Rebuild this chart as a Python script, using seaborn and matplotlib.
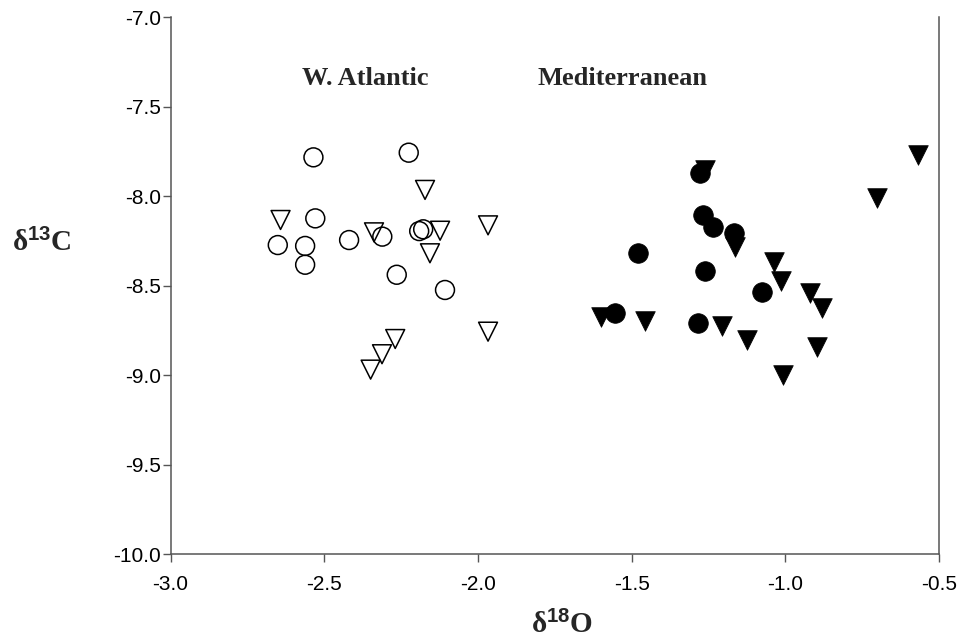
import matplotlib
matplotlib.use("Agg")
import matplotlib.pyplot as plt
import seaborn as sns
import pandas as pd

# --- data ---
atl_circ_x = [-2.535, -2.225, -2.529, -2.651, -2.562, -2.562, -2.419, -2.311, -2.178, -2.191, -2.264, -2.107]
atl_circ_y = [-7.784, -7.758, -8.125, -8.274, -8.279, -8.384, -8.246, -8.227, -8.186, -8.196, -8.440, -8.525]

atl_tri_x = [-2.642, -2.172, -2.338, -2.123, -1.967, -2.156, -1.967, -2.269, -2.312, -2.349]
atl_tri_y = [-8.134, -7.966, -8.203, -8.194, -8.164, -8.320, -8.758, -8.799, -8.884, -8.970]

med_circ_x = [-1.277, -1.269, -1.236, -1.167, -1.478, -1.261, -1.077, -1.554, -1.285]
med_circ_y = [-7.870, -8.106, -8.172, -8.208, -8.317, -8.417, -8.538, -8.655, -8.711]

med_tri_x = [-0.569, -0.701, -1.261, -1.164, -1.037, -1.015, -0.920, -0.882, -1.600, -1.455, -1.205, -1.124, -0.897, -1.008]
med_tri_y = [-7.771, -8.011, -7.855, -8.283, -8.370, -8.475, -8.540, -8.627, -8.674, -8.697, -8.726, -8.804, -8.842, -9.000]

x_ticks = [-3.0, -2.5, -2.0, -1.5, -1.0, -0.5]
y_ticks = [-10.0, -9.5, -9.0, -8.5, -8.0, -7.5, -7.0]
region_labels = ["W. Atlantic", "Mediterranean"]
region_label_x = [-2.367, -1.528]
region_label_y = [-7.346, -7.346]

sns.set_theme(style="white")
plt.rcParams["font.family"] = ["Liberation Sans", "DejaVu Sans"]
plt.rcParams["mathtext.fontset"] = "custom"
plt.rcParams["mathtext.rm"] = "Liberation Serif:bold"
plt.rcParams["mathtext.it"] = "Liberation Serif:bold"
plt.rcParams["mathtext.bf"] = "Liberation Serif:bold"
plt.rcParams["mathtext.sf"] = "Liberation Sans:bold"

fig = plt.figure(figsize=(9.68, 6.44), dpi=100)
ax = fig.add_axes([170.5 / 968, 90 / 644, (939 - 170.5) / 968, (554 - 17) / 644])

size = 185
sns.scatterplot(x=atl_circ_x, y=atl_circ_y, marker="o", s=size, facecolor="none",
                edgecolor="black", linewidth=1.1, ax=ax, zorder=3)
sns.scatterplot(x=atl_tri_x, y=atl_tri_y, marker="v", s=size, facecolor="none",
                edgecolor="black", linewidth=1.1, ax=ax, zorder=3)
sns.scatterplot(x=med_circ_x, y=med_circ_y, marker="o", s=size + 15, color="black",
                edgecolor="black", linewidth=0.5, ax=ax, zorder=3)
sns.scatterplot(x=med_tri_x, y=med_tri_y, marker="v", s=size + 15, color="black",
                edgecolor="black", linewidth=0.5, ax=ax, zorder=3)

ax.set_xlim(-3.0, -0.5)
ax.set_ylim(-10.0, -7.0)
ax.set_xticks(x_ticks)
ax.set_yticks(y_ticks)
ax.set_xticklabels([f"{v:.1f}" for v in x_ticks])
ax.set_yticklabels([f"{v:.1f}" for v in y_ticks])
ax.tick_params(axis="both", which="major", direction="out", length=6, width=1,
               color="#555555", labelsize=15, labelcolor="black",
               left=True, bottom=True)
ax.tick_params(axis="x", pad=9)
ax.tick_params(axis="y", pad=1)
ax.grid(False)

for side in ["left", "bottom", "right"]:
    ax.spines[side].set_visible(True)
    ax.spines[side].set_color("#555555")
    ax.spines[side].set_linewidth(1.1)
ax.spines["top"].set_visible(False)

ax.set_xlabel("")
ax.set_ylabel("")

for lab, lx, ly in zip(region_labels, region_label_x, region_label_y):
    ax.text(lx, ly, lab, ha="center", va="center", fontsize=19,
            fontfamily="Liberation Serif", fontweight="bold")

fig.text(562 / 968, 1 - 625 / 644, r"$\mathrm{\delta}^{\mathsf{18}}\mathrm{O}$",
         ha="center", va="center", fontsize=21)
fig.text(42 / 968, 1 - 243 / 644, r"$\mathrm{\delta}^{\mathsf{13}}\mathrm{C}$",
         ha="center", va="center", fontsize=21)

fig.savefig("out.png", dpi=100)
